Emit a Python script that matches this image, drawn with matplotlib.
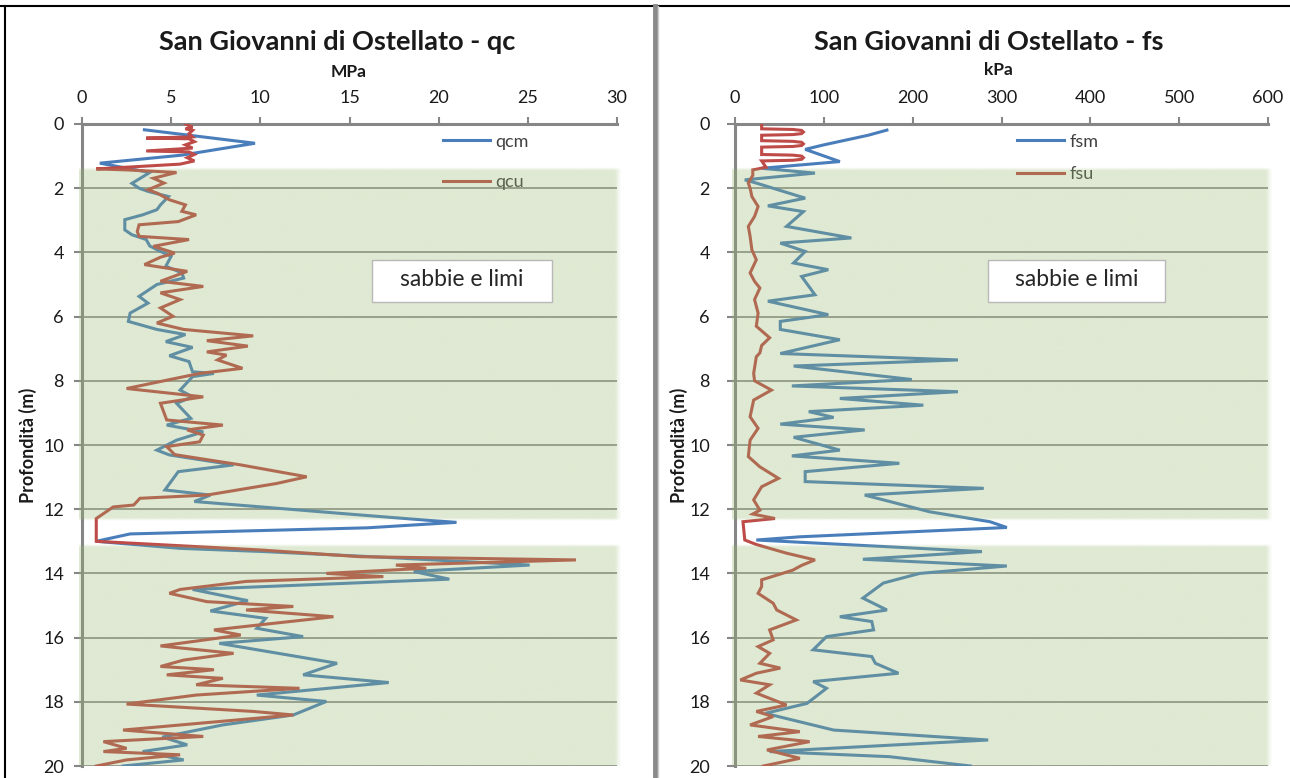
import numpy as np
import matplotlib.pyplot as plt
from matplotlib.lines import Line2D
from matplotlib.patches import Rectangle

plt.rcParams['font.family'] = ['Lato', 'DejaVu Sans']

# Cone resistance qc (MPa): measured (qcm) and computed (qcu) versus depth (m)
qcm_depth = [0.18, 0.6, 0.97, 1.22, 1.51, 1.85, 2.0, 2.1, 2.26, 2.52, 2.67, 2.83, 2.98, 3.3, 3.45,
             3.6, 3.8, 3.97, 4.12, 4.43, 4.64, 4.8, 5.0, 5.37, 5.58, 5.89, 6.15, 6.4, 6.56, 6.78,
             6.96, 7.22, 7.4, 7.72, 7.77, 7.87, 8.29, 8.5, 8.7, 9.17, 9.38, 9.59, 9.85, 10.16,
             10.31, 10.62, 10.83, 11.4, 11.56, 11.76, 12.18, 12.35, 12.41, 12.58, 12.77, 13.0,
             13.22, 13.32, 13.5, 13.74, 13.94, 14.18, 14.5, 14.85, 15.17, 15.4, 15.71, 15.97,
             16.18, 16.8, 17.16, 17.4, 17.79, 17.99, 18.41, 18.72, 19.1, 19.34, 19.55, 19.81, 20.0]
qcm_value = [3.5, 9.7, 5.6, 1.0, 3.8, 2.8, 3.2, 3.7, 4.85, 4.4, 4.2, 3.4, 2.4, 2.4, 2.8,
             3.6, 3.8, 4.4, 5.0, 4.7, 5.6, 5.7, 4.2, 3.2, 3.7, 2.7, 2.6, 4.2, 5.8, 4.7,
             6.2, 4.9, 6.0, 6.2, 7.4, 6.2, 5.5, 6.2, 5.3, 6.1, 4.75, 6.8, 5.3, 4.2,
             4.9, 8.5, 5.4, 4.65, 7.2, 6.3, 15.6, 19.5, 21.0, 16.0, 2.7, 0.8,
             5.5, 10.2, 17.0, 25.1, 18.6, 20.6, 6.2, 9.3, 7.2, 10.3, 9.8, 12.4,
             7.7, 14.3, 12.4, 17.2, 9.8, 13.7, 11.85, 7.9, 4.5, 5.9, 3.4, 5.7, 2.3]

qcu_depth = [0.0, 0.1, 0.15, 0.2, 0.3, 0.4, 0.44, 0.46, 0.55, 0.65, 0.75, 0.84, 0.87, 0.95,
             1.05, 1.15, 1.25, 1.4, 1.43, 1.51, 1.69, 1.84, 2.05, 2.15, 2.36, 2.52, 2.72, 2.83,
             3.04, 3.14, 3.35, 3.5, 3.6, 3.81, 4.02, 4.15, 4.38, 4.59, 4.9, 5.06, 5.26, 5.47,
             5.73, 5.99, 6.2, 6.4, 6.6, 6.75, 6.92, 7.1, 7.2, 7.35, 7.61, 7.77, 8.24, 8.5, 8.7,
             9.22, 9.38, 9.53, 9.69, 9.9, 10.05, 10.3, 10.62, 10.99, 11.2, 11.56, 11.66, 11.87,
             11.93, 12.29, 13.0, 13.27, 13.48, 13.58, 13.74, 13.84, 14.0, 14.1, 14.25, 14.5,
             14.62, 14.88, 15.03, 15.14, 15.35, 15.76, 15.92, 16.26, 16.49, 16.7, 16.9, 17.0,
             17.16, 17.27, 17.47, 17.58, 17.79, 18.07, 18.3, 18.41, 18.88, 19.08, 19.24, 19.45,
             19.55, 19.65, 19.81, 20.0]
qcu_value = [5.8, 6.2, 5.8, 6.2, 6.0, 6.2, 3.6, 6.0, 6.3, 5.8, 6.2, 3.6, 6.0, 6.3,
             5.9, 6.3, 5.5, 0.8, 2.5, 5.3, 4.0, 4.6, 3.7, 4.2, 4.9, 5.8, 5.6, 6.4,
             5.4, 3.2, 3.1, 3.2, 6.0, 4.0, 5.2, 4.4, 3.5, 5.9, 4.4, 6.8, 4.4, 5.5,
             4.4, 5.1, 4.2, 5.7, 9.6, 7.0, 9.3, 7.0, 8.1, 7.6, 9.0, 6.6, 2.5, 6.8, 4.4,
             4.75, 7.9, 5.9, 6.8, 6.6, 4.75, 5.2, 8.9, 12.6, 10.9, 7.0, 3.25, 2.9,
             1.75, 0.8, 0.8, 10.0, 15.6, 27.7, 17.6, 19.3, 13.7, 16.9, 9.2, 5.5,
             4.9, 7.0, 11.85, 9.2, 14.1, 7.4, 8.9, 4.4, 8.5, 5.7, 4.4, 7.4,
             4.75, 7.9, 6.4, 12.2, 6.4, 2.5, 9.6, 11.85, 2.3, 6.8, 1.2, 2.5,
             1.2, 5.5, 2.5, 0.8]

# Sleeve friction fs (kPa): measured (fsm) and computed (fsu) versus depth (m)
fsm_depth = [0.19, 0.35, 0.5, 0.65, 0.79, 1.17, 1.38, 1.53, 1.74, 1.84, 2.31, 2.55, 2.73, 3.19,
             3.55, 3.71, 3.97, 4.33, 4.54, 4.75, 5.32, 5.52, 5.94, 6.15, 6.4, 6.72, 7.15, 7.35,
             7.54, 7.96, 8.16, 8.34, 8.55, 8.76, 8.96, 9.14, 9.35, 9.53, 9.76, 10.16, 10.34,
             10.57, 10.83, 11.14, 11.35, 11.56, 12.08, 12.39, 12.57, 12.86, 12.96, 13.32, 13.56,
             13.77, 14.0, 14.3, 14.77, 15.14, 15.35, 15.5, 15.76, 15.97, 16.38, 16.59, 16.8,
             17.11, 17.37, 17.58, 18.05, 18.36, 18.88, 19.19, 19.55, 19.71, 20.0]
fsm_value = [171, 150, 125, 100, 79, 118, 30, 90, 11, 24, 79, 37, 77, 58,
             131, 51, 79, 66, 105, 75, 90, 37, 105, 51, 51, 118, 51, 251,
             66, 199, 64, 251, 118, 212, 83, 111, 51, 146, 66, 118, 64,
             185, 79, 79, 280, 146, 219, 287, 306, 73, 24, 278, 144,
             306, 208, 167, 144, 171, 118, 154, 156, 103, 88, 154, 158,
             184, 88, 103, 81, 34, 111, 285, 39, 174, 265]

fsu_depth = [0.0, 0.15, 0.17, 0.2, 0.25, 0.3, 0.33, 0.35, 0.52, 0.54, 0.57, 0.62, 0.67, 0.7,
             0.72, 0.95, 0.97, 1.0, 1.05, 1.1, 1.13, 1.15, 1.35, 1.43, 1.6, 1.84, 2.0, 2.26,
             2.57, 2.88, 3.19, 3.5, 3.92, 4.23, 4.64, 4.9, 5.11, 5.47, 5.89, 6.3, 6.66, 6.9,
             7.13, 7.25, 7.77, 8.0, 8.29, 8.6, 9.12, 9.48, 9.85, 10.36, 10.68, 11.04, 11.3,
             11.71, 12.03, 12.15, 12.29, 12.39, 12.96, 13.1, 13.37, 13.58, 13.75, 13.9, 14.2,
             14.41, 14.62, 14.93, 15.14, 15.45, 15.76, 16.07, 16.28, 16.49, 16.8, 16.95, 17.11,
             17.32, 17.47, 17.73, 18.1, 18.3, 18.46, 18.72, 18.93, 19.08, 19.24, 19.5, 19.76, 20.0]
fsu_value = [30, 30, 65, 75, 77, 75, 65, 30, 30, 65, 75, 77, 75, 65,
             30, 30, 65, 75, 77, 75, 65, 30, 35, 20, 20, 15, 17, 19,
             26, 22, 15, 17, 19, 24, 17, 22, 28, 22, 26, 24, 39, 30,
             28, 24, 21, 22, 41, 21, 17, 26, 17, 15, 28, 49, 30,
             21, 28, 20, 45, 9, 11, 24, 58, 90, 75, 65, 30,
             30, 26, 43, 47, 69, 39, 43, 26, 39, 28, 51, 24,
             6, 39, 24, 58, 24, 43, 17, 73, 26, 84, 36, 73, 32]

# Sand and silt layers (top, bottom) in m
layer_top = [1.38, 13.1]
layer_bottom = [12.37, 20.05]
layer_label = 'sabbie e limi'

depth_ticks = np.arange(0, 21, 2)

BLUE = '#4a7ebb'
RED = '#be4b48'
GREY = '#868686'
GREEN = np.array([148, 182, 108]) / 255.0

fig = plt.figure(figsize=(12.9, 7.78), dpi=100)
W, H = 1290.0, 778.0


def draw_panel(rect, xmax, xstep, m_depth, m_val, u_depth, u_val, names,
               legend_pos, legend_gap, label_box, ylabel_pad):
    ax = fig.add_axes(rect)
    # gridlines below everything
    for y in depth_ticks[1:]:
        ax.axhline(y, color=GREY, lw=1.2, zorder=1)
    ax.plot(m_val, m_depth, color=BLUE, lw=2.2, zorder=2, label=names[0],
            solid_joinstyle='miter')
    ax.plot(u_val, u_depth, color=RED, lw=2.2, zorder=2, label=names[1],
            solid_joinstyle='miter')
    leg = ax.legend(loc='upper left', bbox_to_anchor=legend_pos, frameon=False,
                    fontsize=13, handlelength=2.6, handletextpad=0.3,
                    labelspacing=legend_gap, borderpad=0, borderaxespad=0)
    for t in leg.get_texts():
        t.set_color('#404040')
    leg.set_zorder(2.2)

    # translucent green overlay marking the layers, soft-edged
    d = np.linspace(0, 20, 1601)
    a = np.zeros_like(d)
    for top, bot in zip(layer_top, layer_bottom):
        a = np.maximum(a, np.clip((d - top) / 0.09, 0, 1) * np.clip((bot - d) / 0.09, 0, 1))
    xs = np.linspace(0, 1, 400)
    ax_fade = np.clip((1.0 - xs) / 0.012, 0, 1)
    rgba = np.zeros((len(d), len(xs), 4))
    rgba[..., :3] = GREEN
    rgba[..., 3] = 0.3 * a[:, None] * ax_fade[None, :]
    im = ax.imshow(rgba, extent=(-0.006 * xmax, xmax * 1.008, 20, 0), origin='upper',
                   aspect='auto', interpolation='bilinear', zorder=3)
    im.set_clip_on(False)

    # layer label box
    bx, by, bw, bh = label_box
    ax.add_patch(Rectangle((bx, by), bw, bh, transform=ax.transAxes, facecolor='white',
                           edgecolor='#b8b8b8', lw=1.0, zorder=5))
    ax.text(bx + bw / 2, by + bh / 2 + 0.002, layer_label, transform=ax.transAxes,
            ha='center', va='center', fontsize=16.5, color='#262626', zorder=6)

    ax.set_xlim(0, xmax)
    ax.set_ylim(20, 0)
    ax.set_xticks(np.arange(0, xmax + 1, xstep))
    ax.set_yticks(depth_ticks)
    ax.xaxis.tick_top()
    ax.tick_params(axis='x', direction='out', length=5, width=1.5, color=GREY,
                   labelsize=13, labelcolor='#1a1a1a', pad=8)
    ax.tick_params(axis='y', direction='out', length=6, width=1.5, color=GREY,
                   labelsize=13, labelcolor='#1a1a1a', pad=ylabel_pad)
    for side in ('right', 'bottom'):
        ax.spines[side].set_visible(False)
    for side in ('top', 'left'):
        ax.spines[side].set_color(GREY)
        ax.spines[side].set_linewidth(2.2)
        ax.spines[side].set_zorder(1.5)
    ax.set_facecolor('white')
    return ax


ax1 = draw_panel([82 / W, 1 - 766 / H, 535 / W, 642 / H], 30, 5,
                 qcm_depth, qcm_value, qcu_depth, qcu_value, ('qcm', 'qcu'),
                 (0.675, 0.985), 1.35, (0.542, 0.723, 0.336, 0.065), 7)
ax2 = draw_panel([735 / W, 1 - 766 / H, 533 / W, 642 / H], 600, 100,
                 fsm_depth, fsm_value, fsu_depth, fsu_value, ('fsm', 'fsu'),
                 (0.529, 0.985), 0.9, (0.475, 0.723, 0.332, 0.065), 12)

# titles, units and depth labels
fig.text(337 / W, 1 - 42 / H, 'San Giovanni di Ostellato - qc', ha='center', va='center',
         fontsize=19.5, fontweight='bold', color='#1a1a1a')
fig.text(989 / W, 1 - 42 / H, 'San Giovanni di Ostellato - fs', ha='center', va='center',
         fontsize=19.5, fontweight='bold', color='#1a1a1a')
fig.text(349 / W, 1 - 72 / H, 'MPa', ha='center', va='center', fontsize=12.5,
         fontweight='bold', color='#1a1a1a')
fig.text(998 / W, 1 - 70 / H, 'kPa', ha='center', va='center', fontsize=12.5,
         fontweight='bold', color='#1a1a1a')
for xp in (28, 679):
    fig.text(xp / W, 1 - 445 / H, 'Profondità (m)', ha='center', va='center',
             rotation=90, fontsize=13, fontweight='bold', color='#1a1a1a')

# outer frame and the divider between the two charts
fig.add_artist(Line2D([0, 1], [1 - 6 / H, 1 - 6 / H], color='black', lw=1.5))
fig.add_artist(Line2D([5 / W, 5 / W], [0, 1 - 6 / H], color='black', lw=1.5))
fig.add_artist(Line2D([655 / W, 655 / W], [0, 1 - 6 / H], color='#8a8a8a', lw=3.5))
fig.add_artist(Line2D([657.5 / W, 657.5 / W], [0, 1 - 6 / H], color='#cfcfcf', lw=1))

fig.savefig('out.png', dpi=100)
